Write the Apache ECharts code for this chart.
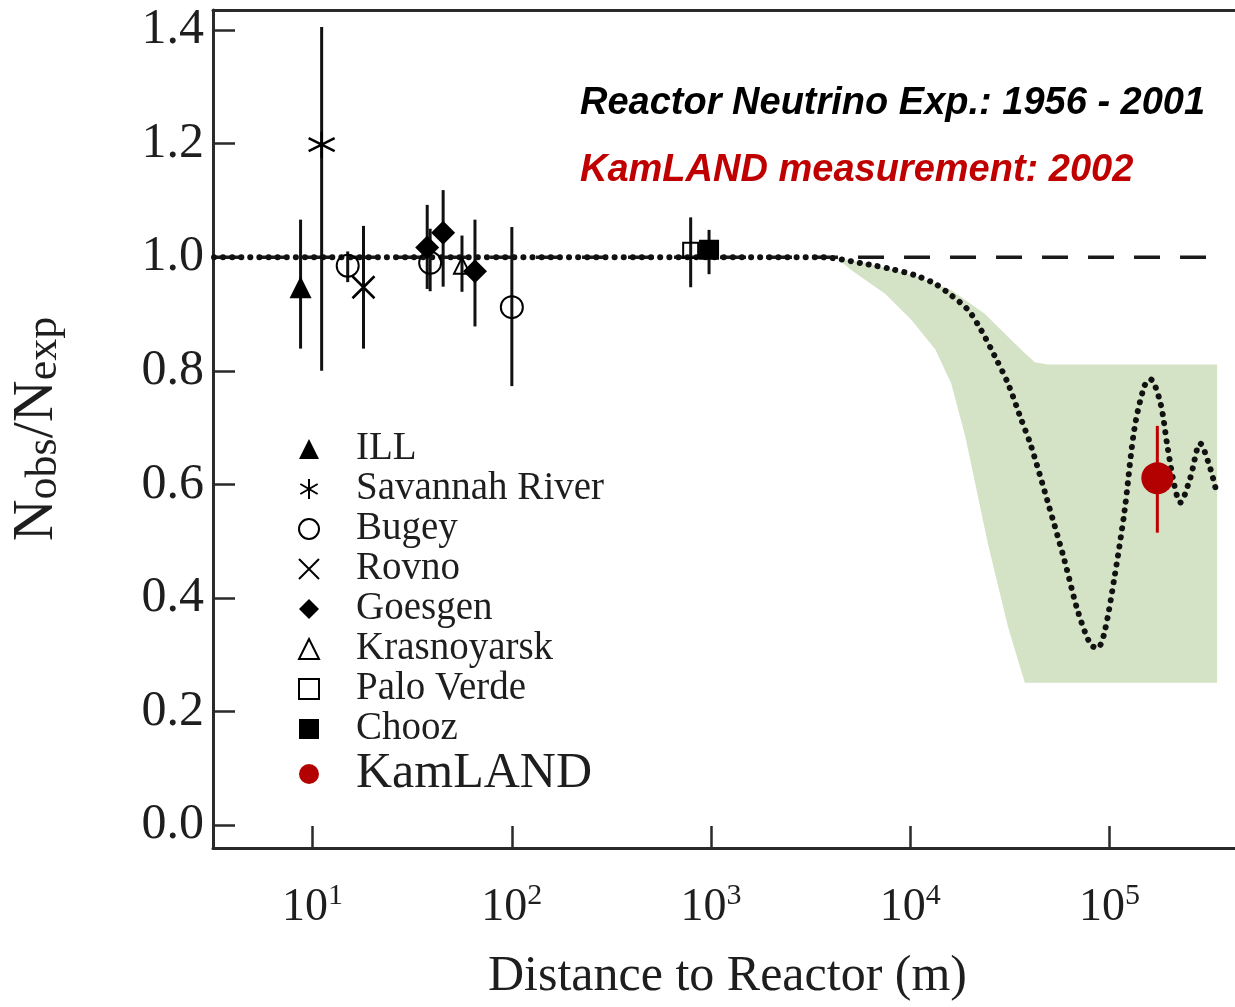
<!DOCTYPE html>
<html>
<head>
<meta charset="utf-8">
<script src="https://cdn.jsdelivr.net/npm/echarts@6/dist/echarts.min.js"></script>
<style>
html,body{margin:0;padding:0;background:#fff;overflow:hidden;width:1235px;height:1007px;}
#main{width:1245px;height:1007px;}
</style>
</head>
<body>
<div id="main"></div>
<script>
// ---------- DATA ----------
const pointName = ['ILL','Savannah River','Bugey','Rovno','Bugey','Goesgen','Goesgen','Krasnoyarsk','Goesgen','Bugey','Palo Verde','Chooz','KamLAND'];
const pointDist = [8.7, 11.1, 15.0, 18.0, 38.9, 37.6, 45.2, 56.2, 65.3, 100, 790, 977, 173800];
const pointRatio = [0.947, 1.198, 0.985, 0.947, 0.99, 1.017, 1.043, 0.985, 0.975, 0.912, 1.012, 1.013, 0.611];
const pointErrHigh = [1.066, 1.405, 1.010, 1.055, 1.05, 1.092, 1.118, 1.038, 1.066, 1.053, 1.07, 1.048, 0.703];
const pointErrLow = [0.839, 0.800, 0.956, 0.839, 0.94, 0.944, 0.948, 0.939, 0.878, 0.773, 0.947, 0.970, 0.515];

const curveDist = [3.2, 3500, 6166, 8035, 10593, 13335, 16032, 19498, 22646, 26607, 30903, 35892, 40272, 48978, 59566, 69183, 80353, 87096, 94406, 105925, 118850, 133352, 149624, 160325, 179887, 194984, 211349, 226464, 254097, 285102, 319890, 346737];
const curveRatio = [1.0, 1.0, 0.987, 0.979, 0.968, 0.953, 0.933, 0.907, 0.872, 0.825, 0.778, 0.716, 0.669, 0.569, 0.465, 0.378, 0.318, 0.312, 0.340, 0.437, 0.552, 0.698, 0.773, 0.785, 0.744, 0.669, 0.599, 0.568, 0.611, 0.672, 0.629, 0.582];

const bandUpperDist = [3800, 4365, 6166, 8710, 10965, 16032, 23714, 30903, 37584, 42170, 48978, 346737];
const bandUpperRatio = [1.0, 0.998, 0.989, 0.975, 0.965, 0.942, 0.900, 0.860, 0.831, 0.815, 0.811, 0.811];
const bandLowerDist = [3800, 4365, 5070, 7500, 10116, 13335, 16032, 18836, 24547, 30903, 37584, 346737];
const bandLowerRatio = [1.0, 0.996, 0.977, 0.935, 0.890, 0.838, 0.778, 0.686, 0.495, 0.350, 0.251, 0.251];

const noOscDist = [3.2, 320000];
const noOscRatio = [1, 1];

const xTickExponents = [1, 2, 3, 4, 5];
const yTickLabels = ['0.0', '0.2', '0.4', '0.6', '0.8', '1.0', '1.2', '1.4'];

const legendNames = ['ILL','Savannah River','Bugey','Rovno','Goesgen','Krasnoyarsk','Palo Verde','Chooz','KamLAND'];
const titleLines = ['Reactor Neutrino Exp.: 1956 - 2001', 'KamLAND measurement: 2002'];

// ---------- STYLES ----------
const SERIF = '"Liberation Serif", "Times New Roman", serif';
const INK = '#1e1e1e';
const symbolStyles = {
  'ILL': { symbol: 'triangle', size: 22, itemStyle: { color: '#000', opacity: 1 } },
  'Savannah River': { symbol: 'path://M0,-10L0,10M-8.66,-5L8.66,5M-8.66,5L8.66,-5', size: 26, itemStyle: { color: 'rgba(0,0,0,0)', borderColor: '#000', borderWidth: 2.5, opacity: 1 } },
  'Bugey': { symbol: 'circle', size: 22, itemStyle: { color: 'rgba(0,0,0,0)', borderColor: '#000', borderWidth: 2, opacity: 1 } },
  'Rovno': { symbol: 'path://M-1,-1L1,1M-1,1L1,-1', size: 22, itemStyle: { color: 'rgba(0,0,0,0)', borderColor: '#000', borderWidth: 2.5, opacity: 1 } },
  'Goesgen': { symbol: 'diamond', size: 24, itemStyle: { color: '#000', opacity: 1 } },
  'Krasnoyarsk': { symbol: 'triangle', size: 16, itemStyle: { color: 'rgba(0,0,0,0)', borderColor: '#000', borderWidth: 2, opacity: 1 } },
  'Palo Verde': { symbol: 'rect', size: 15, itemStyle: { color: 'rgba(0,0,0,0)', borderColor: '#000', borderWidth: 2, opacity: 1 } },
  'Chooz': { symbol: 'rect', size: 20, itemStyle: { color: '#000', opacity: 1 } },
  'KamLAND': { symbol: 'circle', size: 32, itemStyle: { color: '#b30000', opacity: 1 } }
};

const errBlack = [], errRed = [];
pointName.forEach((n, i) => {
  const row = [pointDist[i], pointErrLow[i], pointErrHigh[i]];
  if (n === 'KamLAND') errRed.push(row); else errBlack.push(row);
});

function errRender(color) {
  return function (params, api) {
    const p1 = api.coord([api.value(0), api.value(1)]);
    const p2 = api.coord([api.value(0), api.value(2)]);
    return { type: 'line', shape: { x1: p1[0], y1: p1[1], x2: p2[0], y2: p2[1] },
             style: { stroke: color, lineWidth: 3 } };
  };
}

const scatterSeries = legendNames.map(n => {
  const st = symbolStyles[n];
  const data = [];
  pointName.forEach((pn, i) => { if (pn === n) data.push([pointDist[i], pointRatio[i]]); });
  return {
    name: n, type: 'scatter', data: data, symbol: st.symbol, symbolSize: st.size,
    itemStyle: st.itemStyle, z: n === 'KamLAND' ? 8 : 6, silent: true
  };
});

const chart = echarts.init(document.getElementById('main'), null, { renderer: 'canvas' });

// the drawing surface is 10px wider than the window so the axis' end tick falls outside the view
const option = {
  animation: false,
  backgroundColor: '#fff',
  grid: { left: 212, right: 0, top: 10, bottom: 150 },
  xAxis: [{
    type: 'log', logBase: 10, min: 3.162, max: 462400,
    name: 'Distance to Reactor (m)', nameLocation: 'middle', nameGap: 104,
    nameTextStyle: { fontFamily: SERIF, fontSize: 50, color: INK, lineHeight: 50 },
    axisLine: { show: true, onZero: false, lineStyle: { color: '#2a2a2a', width: 3 } },
    axisTick: { show: true, inside: true, length: 22, lineStyle: { color: '#2a2a2a', width: 2.5 } },
    axisLabel: {
      margin: 33,
      formatter: function (v) {
        const e = Math.log10(v);
        const r = Math.round(e);
        if (Math.abs(e - r) > 1e-6 || xTickExponents.indexOf(r) < 0) return '';
        return '{b|10}{s|' + r + '}';
      },
      rich: {
        b: { fontFamily: SERIF, fontSize: 46, lineHeight: 50, color: INK, verticalAlign: 'bottom' },
        s: { fontFamily: SERIF, fontSize: 30, lineHeight: 30, color: INK, verticalAlign: 'top' }
      }
    },
    splitLine: { show: false }
  }, {
    type: 'value', position: 'top', min: 0, max: 1,
    axisLine: { show: true, onZero: false, lineStyle: { color: '#2a2a2a', width: 3 } },
    axisTick: { show: false }, axisLabel: { show: false }, splitLine: { show: false }
  }],
  yAxis: {
    type: 'value', min: -0.04, max: 1.435, minInterval: 0.2, maxInterval: 0.2,
    name: '{n|N}{s|obs}{n|/N}{s|exp}', nameLocation: 'middle', nameGap: 147,
    nameTextStyle: {
      rich: {
        n: { fontFamily: SERIF, fontSize: 58, lineHeight: 58, color: INK, verticalAlign: 'bottom' },
        s: { fontFamily: SERIF, fontSize: 44, lineHeight: 44, color: INK, verticalAlign: 'bottom' }
      }
    },
    axisLine: { show: true, onZero: false, lineStyle: { color: '#2a2a2a', width: 3 } },
    axisTick: { show: true, inside: true, length: 22, lineStyle: { color: '#2a2a2a', width: 2.5 } },
    axisLabel: {
      margin: 9, fontFamily: SERIF, fontSize: 50, color: INK,
      formatter: function (v) {
        const k = Math.round(v / 0.2);
        if (Math.abs(v - k * 0.2) > 1e-6 || k < 0 || k >= yTickLabels.length) return '';
        return yTickLabels[k];
      }
    },
    splitLine: { show: false }
  },
  legend: {
    orient: 'vertical', left: 298, top: 429, itemWidth: 20, itemHeight: 20, itemGap: 0,
    selectedMode: false, padding: 0,
    textStyle: { fontFamily: SERIF, fontSize: 39, lineHeight: 40, color: INK, padding: [0, 0, 0, 32] },
    data: legendNames.map(n => n === 'KamLAND'
      ? { name: n, textStyle: { fontSize: 50, lineHeight: 44, padding: [0, 0, 0, 32] } }
      : { name: n })
  },
  graphic: [
    { type: 'text', x: 580, y: 104, z: 100,
      style: { text: titleLines[0], fontFamily: '"Liberation Sans", Arial, sans-serif', fontSize: 38, fontWeight: 'bold', fontStyle: 'italic', fill: '#000', verticalAlign: 'middle' } },
    { type: 'text', x: 580, y: 171, z: 100,
      style: { text: titleLines[1], fontFamily: '"Liberation Sans", Arial, sans-serif', fontSize: 38, fontWeight: 'bold', fontStyle: 'italic', fill: '#c00000', verticalAlign: 'middle' } }
  ],
  series: [
    {
      name: 'band', type: 'custom', z: 1, silent: true,
      data: [[bandUpperDist[0], bandUpperRatio[0]]],
      encode: { x: 0, y: 1 },
      renderItem: function (params, api) {
        const pts = [];
        for (let i = 0; i < bandUpperDist.length; i++) pts.push(api.coord([bandUpperDist[i], bandUpperRatio[i]]));
        for (let i = bandLowerDist.length - 1; i >= 0; i--) pts.push(api.coord([bandLowerDist[i], bandLowerRatio[i]]));
        return { type: 'polygon', shape: { points: pts }, style: { fill: '#d4e2c6' } };
      }
    },
    {
      name: 'noosc', type: 'line', z: 2, silent: true, showSymbol: false,
      data: noOscDist.map((d, i) => [d, noOscRatio[i]]),
      lineStyle: { color: '#1a1a1a', width: 3.5, type: [26, 20] }
    },
    {
      name: 'osc', type: 'line', z: 3, silent: true, showSymbol: false, smooth: 0.3,
      data: curveDist.map((d, i) => [d, curveRatio[i]]),
      lineStyle: { color: '#111', width: 6, type: [0.1, 9], cap: 'round' }
    },
    {
      name: 'errBlack', type: 'custom', z: 4, silent: true,
      data: errBlack, encode: { x: 0, y: [1, 2] }, renderItem: errRender('#111')
    },
    {
      name: 'errRed', type: 'custom', z: 7, silent: true,
      data: errRed, encode: { x: 0, y: [1, 2] }, renderItem: errRender('#c00000')
    }
  ].concat(scatterSeries)
};

chart.setOption(option);
</script>
</body>
</html>
